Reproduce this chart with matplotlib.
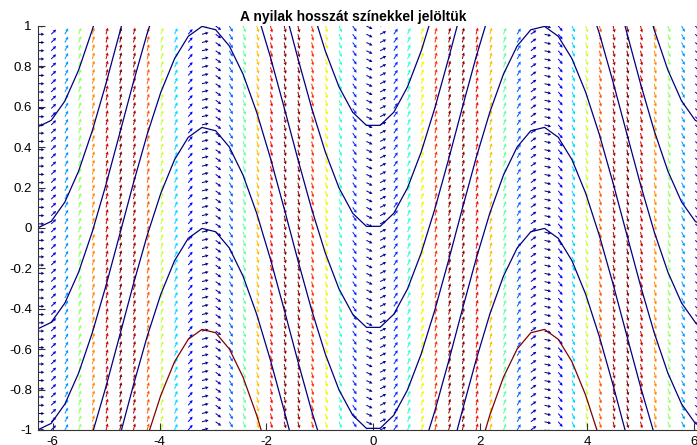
import numpy as np
import matplotlib
matplotlib.use("Agg")
import matplotlib.pyplot as plt

# slope field of y' = sin(x) on a 50x50 grid, solutions y = C - cos(x)
n_grid = 50
x_range = (-2 * np.pi, 2 * np.pi)
y_range = (-1.0, 1.0)
curve_consts = [-1.5, -1.0, -0.5, 0.0, 0.5, 1.0, 1.5]
curve_colors = ["#800000", "#000080", "#000080", "#000080", "#000080", "#000080", "#000080"]
xticks = [-6, -4, -2, 0, 2, 4, 6]
yticks = [-1, -0.8, -0.6, -0.4, -0.2, 0, 0.2, 0.4, 0.6, 0.8, 1]
title = "A nyilak hosszát színekkel jelöltük"

x = np.linspace(*x_range, n_grid)
y = np.linspace(*y_range, n_grid)
X, Y = np.meshgrid(x, y)
slope = np.sin(X)
length = np.sqrt(1 + slope ** 2)
U = 1 / length
V = slope / length

fig = plt.figure(figsize=(6.97, 4.45), dpi=100)
ax = fig.add_axes([37.5 / 697, 15 / 445, 671.5 / 697, 404 / 445])

ax.quiver(X, Y, U, V, length, cmap="jet", angles="xy", scale_units="dots",
          scale=1 / 6.8, units="dots", width=1.0, headwidth=3.4,
          headlength=3.2, headaxislength=2.8, pivot="tail")

for c, col in zip(curve_consts, curve_colors):
    ax.plot(x, c - np.cos(x), color=col, lw=0.9)

ax.set_xlim(*x_range)
ax.set_ylim(*y_range)
ax.set_xticks(xticks)
ax.set_xticklabels([str(t) for t in xticks])
ax.set_yticks(yticks)
ax.set_yticklabels(["%g" % t for t in yticks])
for s in ["top", "right"]:
    ax.spines[s].set_visible(False)
for s in ["left", "bottom"]:
    ax.spines[s].set_color("#333333")
ax.tick_params(direction="in", length=5, color="#333333", labelsize=9.5,
               labelcolor="black")
ax.tick_params(axis="x", pad=4)
ax.tick_params(axis="y", pad=4)
for lab in ax.get_xticklabels() + ax.get_yticklabels():
    lab.set_family("Liberation Sans")

fig.text(353 / 697, 1 - 20.5 / 445, title, ha="center", va="baseline",
         fontsize=10, fontweight="bold", family="Liberation Sans")

fig.savefig("out.png", dpi=100)
